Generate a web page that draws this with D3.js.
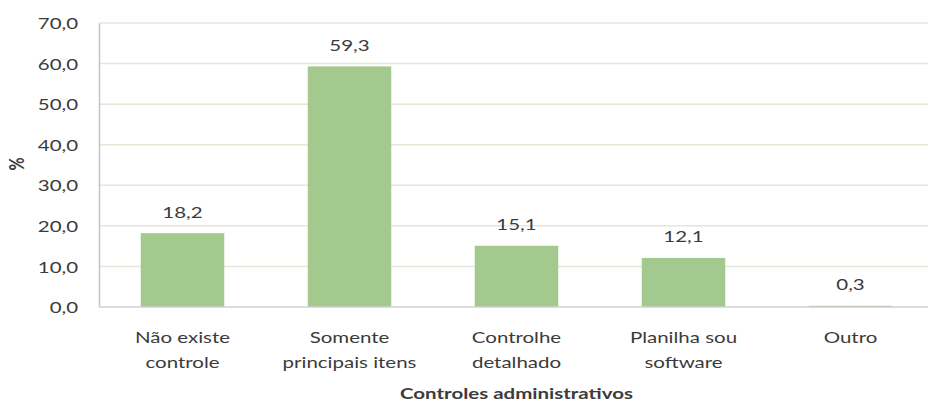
<!DOCTYPE html>
<html><head><meta charset="utf-8">
<script src="https://cdn.jsdelivr.net/npm/d3@7"></script>
<style>body{margin:0;background:#fff;}svg{display:block;font-family:Lato,"Open Sans",sans-serif;}</style>
</head><body><svg id="c" width="928" height="404"></svg>
<script>
const categories = [["Não existe","controle"],["Somente","principais itens"],["Controlhe","detalhado"],["Planilha sou","software"],["Outro"]];
const values = [18.2, 59.3, 15.1, 12.1, 0.3];
const yTicks = [0,10,20,30,40,50,60,70];
const xTitle = "Controles administrativos";
const yTitle = "%";

(function(){
const svg = d3.select("#c");
const mL = 99, mR = 934, mT = 23, mB = 307;
const sx = 1.28;
const x = d3.scaleBand().domain(d3.range(values.length)).range([mL,mR]).paddingInner(0.5).paddingOuter(0.25);
const y = d3.scaleLinear().domain([0,70]).range([mB,mT]);
const fmt = v => d3.format(".1f")(v).replace(".",",");
const textCol = "#3b3b3b";

svg.append("g").selectAll("line").data(yTicks.filter(t=>t>0)).join("line")
  .attr("x1",mL).attr("x2",mR).attr("y1",d=>y(d)).attr("y2",d=>y(d))
  .attr("stroke","#e4e8d8").attr("stroke-width",1.5);

const ya = svg.append("g").attr("transform",`translate(${mL},0)`)
  .call(d3.axisLeft(y).tickValues(yTicks).tickFormat(fmt).tickSize(0));
ya.select(".domain").attr("stroke","#c4c4c4").attr("stroke-width",1.5);
ya.selectAll(".tick text").attr("font-size",16).attr("fill",textCol).attr("font-family","Lato,sans-serif")
  .attr("x",-21/sx).attr("dy","0.35em").attr("transform",`scale(${sx},1)`);

svg.append("g").selectAll("rect").data(values).join("rect")
  .attr("x",(d,i)=>x(i)).attr("width",x.bandwidth())
  .attr("y",d=>y(d)).attr("height",d=>y(0)-y(d)).attr("fill","#a3c98e");

svg.append("line").attr("x1",mL).attr("x2",mR).attr("y1",y(0)).attr("y2",y(0))
  .attr("stroke","#d0d0d0").attr("stroke-width",1.5);

// value labels
svg.append("g").selectAll("g").data(values).join("g")
  .attr("transform",(d,i)=>`translate(${x(i)+x.bandwidth()/2},${y(d)-15.5}) scale(${sx},1)`)
  .append("text").attr("text-anchor","middle").attr("font-size",16).attr("fill",textCol).text(d=>fmt(d));

// category labels
const cg = svg.append("g").selectAll("g").data(categories).join("g")
  .attr("transform",(d,i)=>`translate(${x(i)+x.bandwidth()/2},343) scale(${sx},1)`);
cg.append("text").attr("text-anchor","middle").attr("font-size",16).attr("fill",textCol)
  .selectAll("tspan").data(d=>d).join("tspan")
  .attr("x",0).attr("y",(d,i)=>i*25).text(d=>d);

svg.append("g").attr("transform",`translate(${(mL+mR)/2},399) scale(${sx},1)`)
  .append("text").attr("text-anchor","middle")
  .attr("font-size",16).attr("font-weight","bold").attr("fill",textCol).text(xTitle);
svg.append("g").attr("transform","translate(24,164) rotate(-90) scale(1,1.25)")
  .append("text").attr("text-anchor","middle")
  .attr("font-size",16).attr("font-weight","bold").attr("fill",textCol).text(yTitle);
})();
</script></body></html>
